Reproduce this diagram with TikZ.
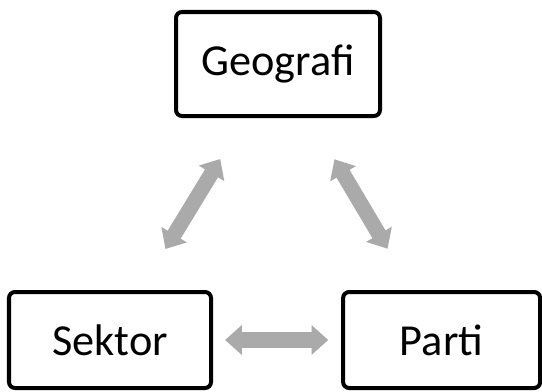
\documentclass[tikz,border=0pt]{standalone}
\usepackage{fontspec}
\setmainfont{Carlito}
\usetikzlibrary{calc}
\usetikzlibrary{positioning}
\usetikzlibrary{arrows.meta}
\definecolor{arrowgray}{RGB}{170,170,170}
\tikzstyle{topic} = [rectangle,
rounded corners=0.15cm,
minimum height=2.4cm, text centered,
line width=0.1cm,
draw=black, fill=white]
\tikzstyle{biarrow} = [line width=0.38cm, draw=arrowgray,
{Triangle[length=0.42cm,width=0.72cm]}-{Triangle[length=0.42cm,width=0.72cm]}]

\begin{document}
\begin{tikzpicture}[font=\fontsize{31.5}{37}\selectfont] % large labels
    \useasboundingbox (0,0) rectangle (13.55,9.775);
    \node[topic, minimum width=5.1cm, minimum height=2.6cm] (geografi) at (6.95,8.175) {Geografi};
    \node[topic, minimum width=5.05cm] (sektor) at (2.75,1.275) {Sektor};
    \node[topic, minimum width=4.925cm] (parti) at (11.04,1.275) {Parti};
    % links between the three
    \draw[biarrow, shorten <=1.2cm, shorten >=1.2cm] (sektor) -- (geografi);
    \draw[biarrow, shorten <=1.2cm, shorten >=1.2cm] (geografi) -- (parti);
    \draw[biarrow, shorten <=0.3cm, shorten >=0.32cm] (sektor) -- (parti);
\end{tikzpicture}
\end{document}
